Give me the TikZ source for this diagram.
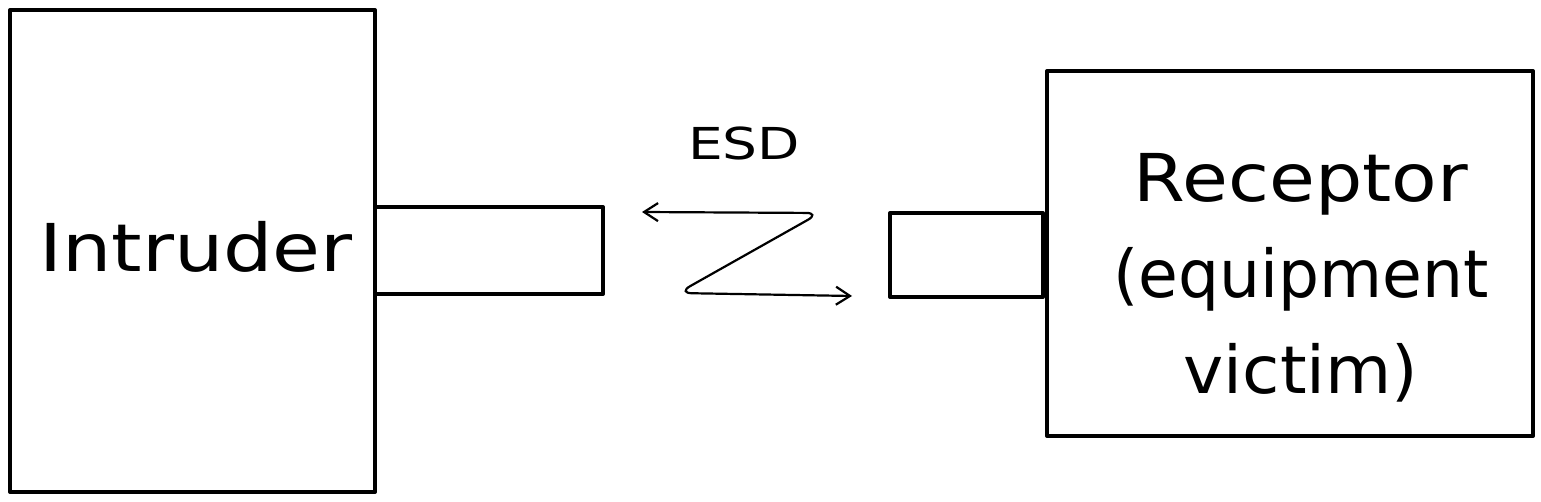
\documentclass[tikz,border=0pt]{standalone}
\usepackage{fontspec}
\setmainfont{DejaVu Sans}
\usetikzlibrary{arrows.meta}
\newcommand{\hstretch}[2]{\scalebox{#1}[1]{#2}}
\begin{document}
\begin{tikzpicture}[x=1pt,y=-1pt,
  box/.style={draw=black,line width=4pt,line join=round},
  lbl/.style={font=\fontsize{66}{96}\selectfont,align=center,inner sep=0pt,anchor=base},
  conn/.style={line width=2.2pt,rounded corners=14pt,{Straight Barb[length=14pt,width=18pt,line width=2.2pt]}-{Straight Barb[length=14pt,width=18pt,line width=2.2pt]}}]
\useasboundingbox (0,0) rectangle (1541,502);
\draw[box] (10,10) rectangle (375,492);
\draw[box] (375,207) rectangle (603,294);
\draw[box] (890,213) rectangle (1043,297);
\draw[box] (1047,71) rectangle (1533,436);
\node[lbl] (intrl) at (196,272) {\hstretch{1.18}{Intruder}};
\node[lbl] (rec) at (1301,393) {\hstretch{1.13}{Receptor}\\\hstretch{0.98}{(equipment}\\\hstretch{1.03}{victim)}};
\node[font=\fontsize{44}{48}\selectfont,inner sep=0pt,anchor=base] (esd) at (744,160) {\hstretch{1.25}{ESD}};
\coordinate (a) at (642,212);
\coordinate (b) at (852,296);
\draw[conn] (a) -- (820,213) -- (678,293) -- (b);
\end{tikzpicture}
\end{document}
